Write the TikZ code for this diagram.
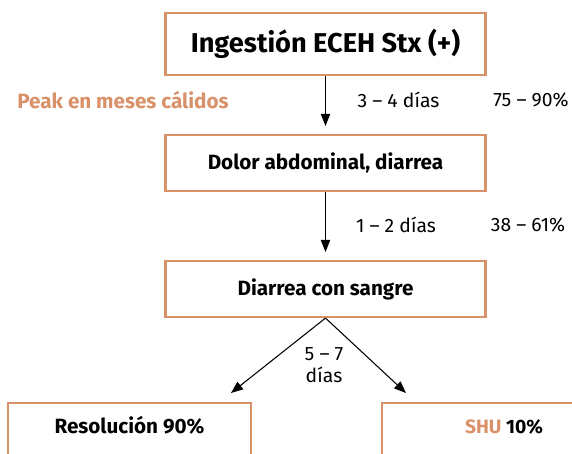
\documentclass[tikz,border=0pt]{standalone}
\usepackage{fontspec}
\setmainfont{Fira Sans}
\usepackage{xcolor}
\usepackage{tikz}
\usetikzlibrary{arrows.meta,positioning}
\definecolor{orangex}{HTML}{D9916A}
\tikzset{
  bx/.style={draw=orangex,line width=1.6pt,rectangle,minimum width=240pt,minimum height=42pt,inner sep=0pt,font=\bfseries\fontsize{15.5}{17}\selectfont},
  lf/.style={bx,minimum height=0pt,text height=22.5pt,text depth=30pt,anchor=north},
  ar/.style={-{Triangle[length=9pt,width=7pt]},line width=0.8pt,black},
  lb/.style={inner sep=0pt,font=\fontsize{14.5}{17}\selectfont}
}

\begin{document}
\begin{tikzpicture}[x=0.75pt,y=-0.75pt]
\clip (0,0) rectangle (572,454);
\node[bx,minimum height=46pt,font=\bfseries\fontsize{20.4}{22}\selectfont] (ing) at (325.5,44) {Ingestión ECEH Stx (+)};
\node[bx] (dolor) at (325.5,163) {Dolor abdominal, diarrea};
\node[bx] (sangre) at (325.5,289) {Diarrea con sangre};
\node[lf,minimum width=182pt] (res) at (129.5,402) {Resolución 90\%};
\node[lf,minimum width=183pt,font=\bfseries\fontsize{14.5}{17}\selectfont] (shu) at (504,402) {{\color{orangex}SHU} 10\%};
\coordinate (tl) at (231,393);
\coordinate (tr) at (406,393);
\draw[ar,shorten >=6pt] (ing) -- (dolor);
\draw[ar,shorten >=6pt] (dolor) -- (sangre);
\draw[ar] (sangre.south) -- (tl);
\draw[ar] (sangre.south) -- (tr);
\node[lb,text=orangex,font=\bfseries\fontsize{15.5}{17}\selectfont] (peak) at (123,100) {Peak en meses cálidos};
\node[lb] (t1) at (398.5,100) {3 -- 4 días};
\node[lb] (p1) at (531,100) {75 -- 90\%};
\node[lb] (t2) at (396,225) {1 -- 2 días};
\node[lb] (p2) at (528,225) {38 -- 61\%};
\node[lb,align=center] (t3) at (324,365) {5 -- 7\\días};
\end{tikzpicture}
\end{document}
